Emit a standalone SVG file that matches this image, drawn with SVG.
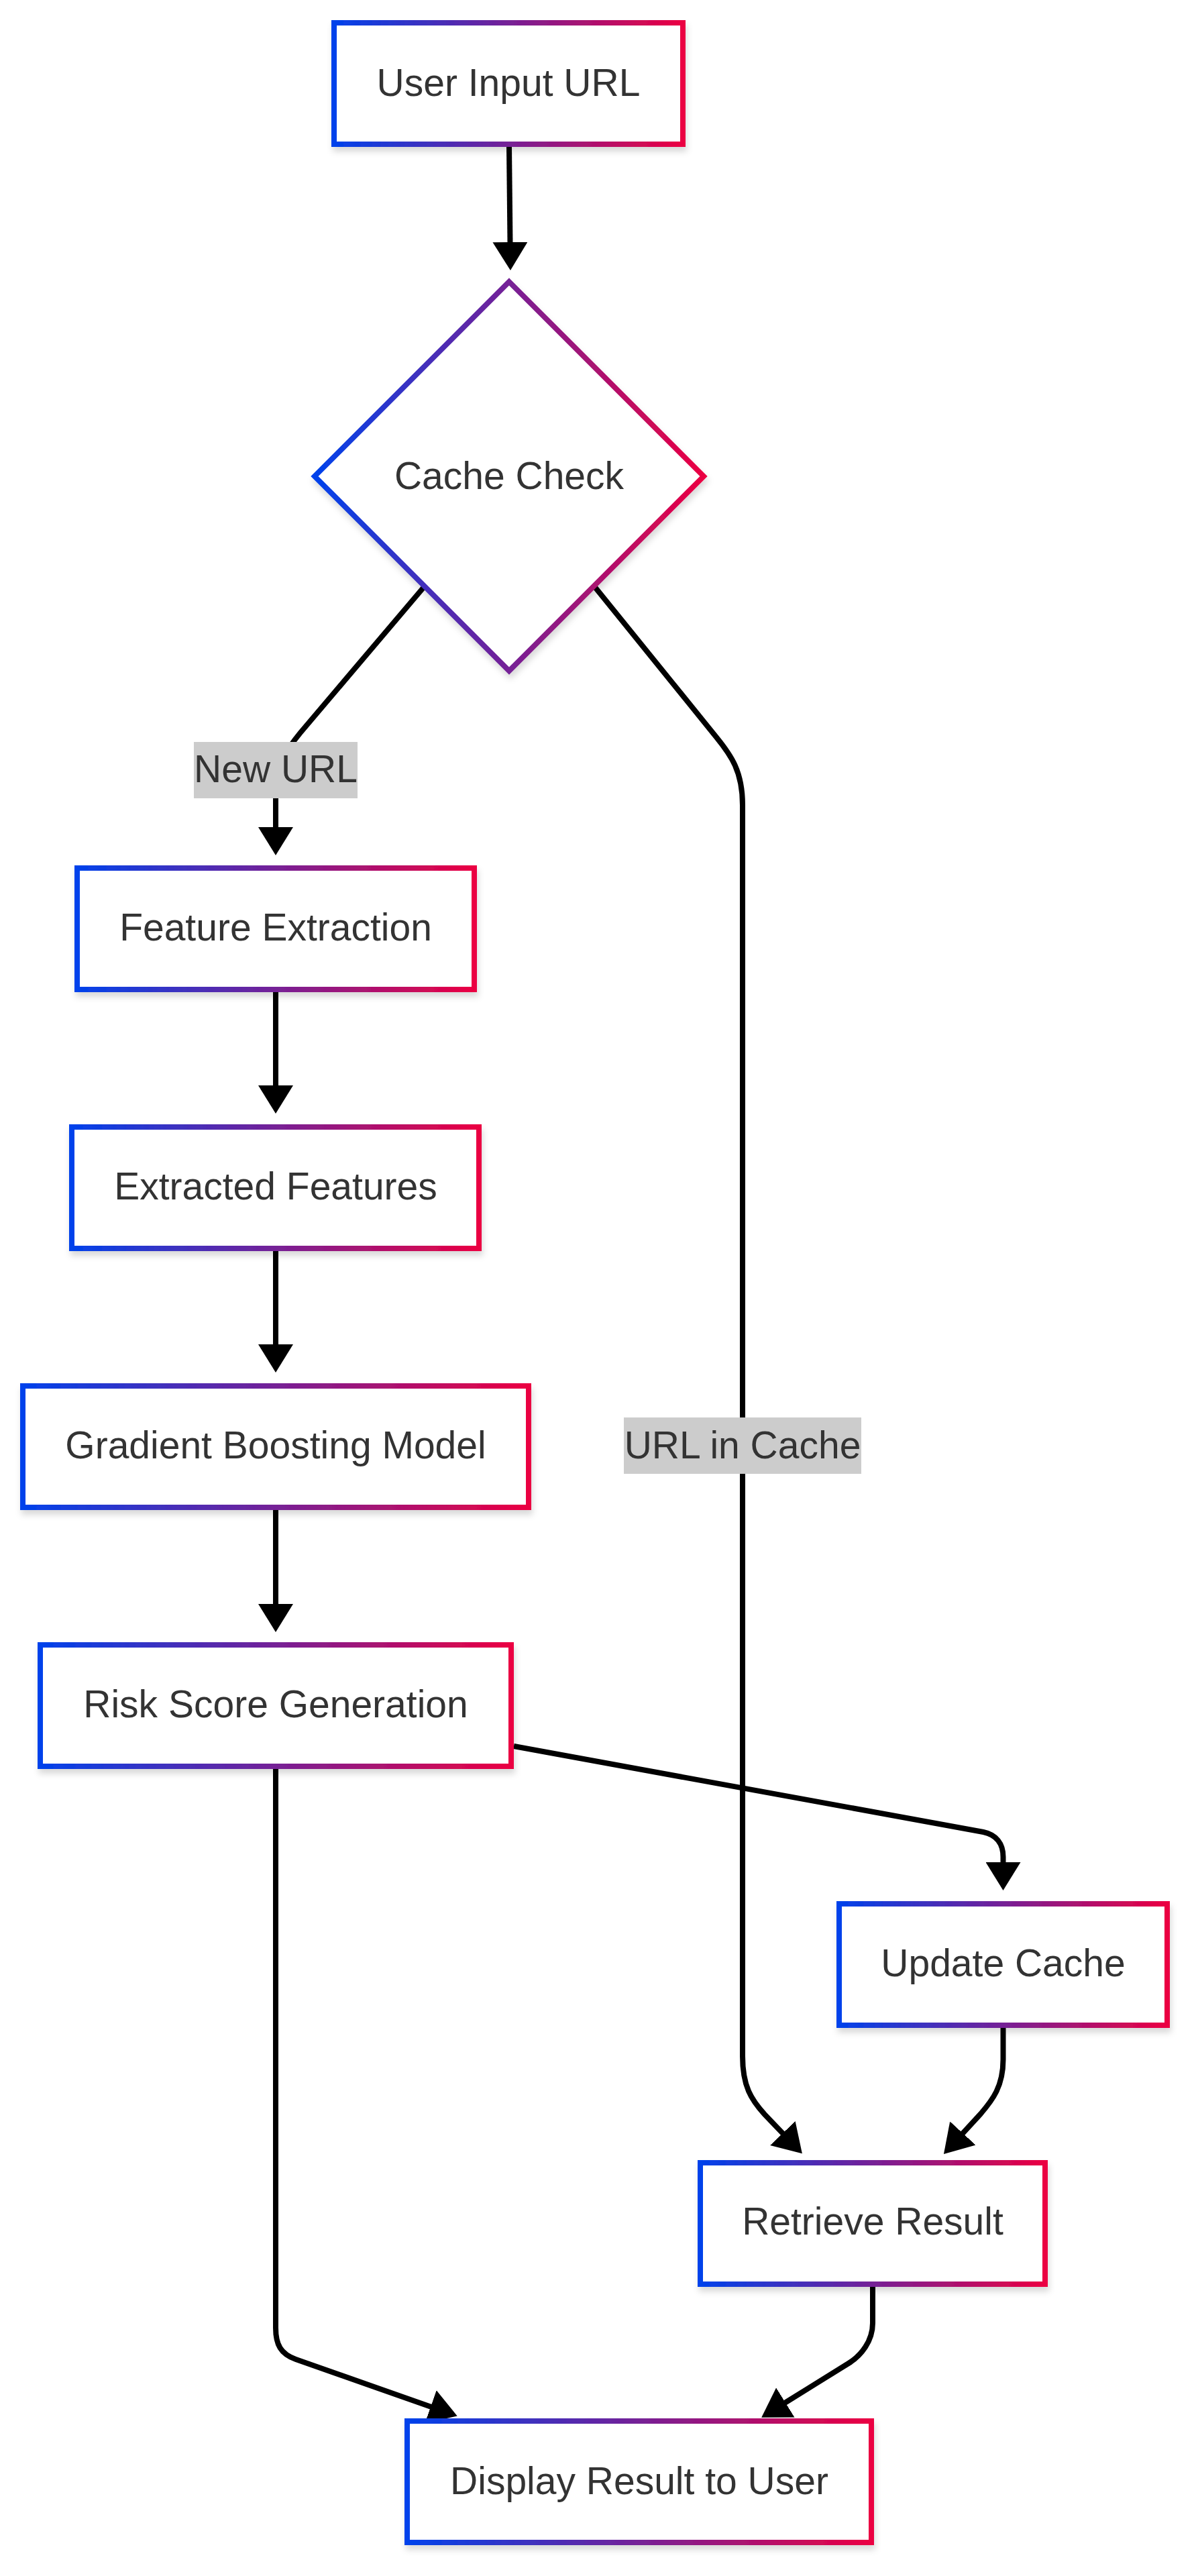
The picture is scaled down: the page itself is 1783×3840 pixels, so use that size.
<svg xmlns="http://www.w3.org/2000/svg" width="1783" height="3840" viewBox="0 0 1783 3840">
<style>
  .node { fill: #ffffff; stroke: url(#grad); stroke-width: 8; filter: url(#shadow); }
  .label { font-family: "Liberation Sans", Arial, sans-serif; font-size: 57px; fill: #333333; text-anchor: middle; }
  .edge { fill: none; stroke: #000000; stroke-width: 8; marker-end: url(#arrow); }
  .elbg { fill: #cccccc; }
</style>
<defs>
  <linearGradient id="grad" x1="0" y1="0" x2="1" y2="0">
    <stop offset="0" stop-color="#0042eb"/>
    <stop offset="1" stop-color="#eb0042"/>
  </linearGradient>
  <filter id="shadow" x="-10%" y="-10%" width="120%" height="130%">
    <feDropShadow dx="2" dy="7" stdDeviation="5" flood-color="#000000" flood-opacity="0.15"/>
  </filter>
  <marker id="arrow" markerUnits="userSpaceOnUse" markerWidth="42" markerHeight="52" viewBox="0 0 42 52" refX="1" refY="26" orient="auto">
    <path d="M0,0 L42,26 L0,52 z" fill="#000000"/>
  </marker>
</defs>
<rect width="1783" height="3840" fill="#ffffff"/>

<g id="connectors">
  <path class="edge" d="M759,218 L760.5,362"/>
  <path class="edge" d="M632,875 L448,1092 C430,1114 411,1140 411,1175 L411,1234"/>
  <path class="edge" d="M886,874 L1068,1099 C1090,1126 1107,1150 1107,1200 L1107,3065 C1107,3110 1120,3130 1140,3152 L1167.5,3180.7"/>
  <path class="edge" d="M411,1477 L411,1619"/>
  <path class="edge" d="M411,1862 L411,2005"/>
  <path class="edge" d="M411,2250 L411,2392"/>
  <path class="edge" d="M766,2603 L1466,2731 C1485,2735 1495.5,2748 1495.5,2768 L1495.5,2777"/>
  <path class="edge" d="M1495.5,3020 L1495.5,3070 C1495.5,3110 1480,3130 1462,3151 L1434.7,3180.7"/>
  <path class="edge" d="M411,2635 L411,3470 C411,3495 418.4,3509 441,3517 L643,3588"/>
  <path class="edge" d="M1301,3405 L1301,3463 C1301,3490 1283.7,3511.4 1265,3523 L1170,3582"/>
  <g id="label-new-url">
    <rect class="elbg" x="289" y="1106" width="244" height="84"/>
    <text class="label" x="411" y="1166">New URL</text>
  </g>
  <g id="label-url-in-cache">
    <rect class="elbg" x="930" y="2113" width="354" height="84"/>
    <text class="label" x="1107" y="2174">URL in Cache</text>
  </g>
</g>

<g id="node-user-input">
  <rect class="node" x="498" y="34" width="520" height="181"/>
  <text class="label" x="758" y="143">User Input URL</text>
</g>
<g id="node-cache-check">
  <polygon class="node" points="759,420 1049,710 759,1000 469,710"/>
  <text class="label" x="759" y="729">Cache Check</text>
</g>
<g id="node-feature-extraction">
  <rect class="node" x="115" y="1294" width="592" height="181"/>
  <text class="label" x="411" y="1402">Feature Extraction</text>
</g>
<g id="node-extracted-features">
  <rect class="node" x="107" y="1680" width="607" height="181"/>
  <text class="label" x="411" y="1788">Extracted Features</text>
</g>
<g id="node-gradient-boosting">
  <rect class="node" x="34" y="2066" width="754" height="181"/>
  <text class="label" x="411" y="2174">Gradient Boosting Model</text>
</g>
<g id="node-risk-score">
  <rect class="node" x="60" y="2452" width="702" height="181"/>
  <text class="label" x="411" y="2560">Risk Score Generation</text>
</g>
<g id="node-update-cache">
  <rect class="node" x="1251" y="2838" width="489" height="181"/>
  <text class="label" x="1495.5" y="2946">Update Cache</text>
</g>
<g id="node-retrieve-result">
  <rect class="node" x="1044" y="3224" width="514" height="181"/>
  <text class="label" x="1301" y="3331">Retrieve Result</text>
</g>
<g id="node-display-result">
  <rect class="node" x="607" y="3609" width="692" height="181"/>
  <text class="label" x="953" y="3718">Display Result to User</text>
</g>
</svg>
